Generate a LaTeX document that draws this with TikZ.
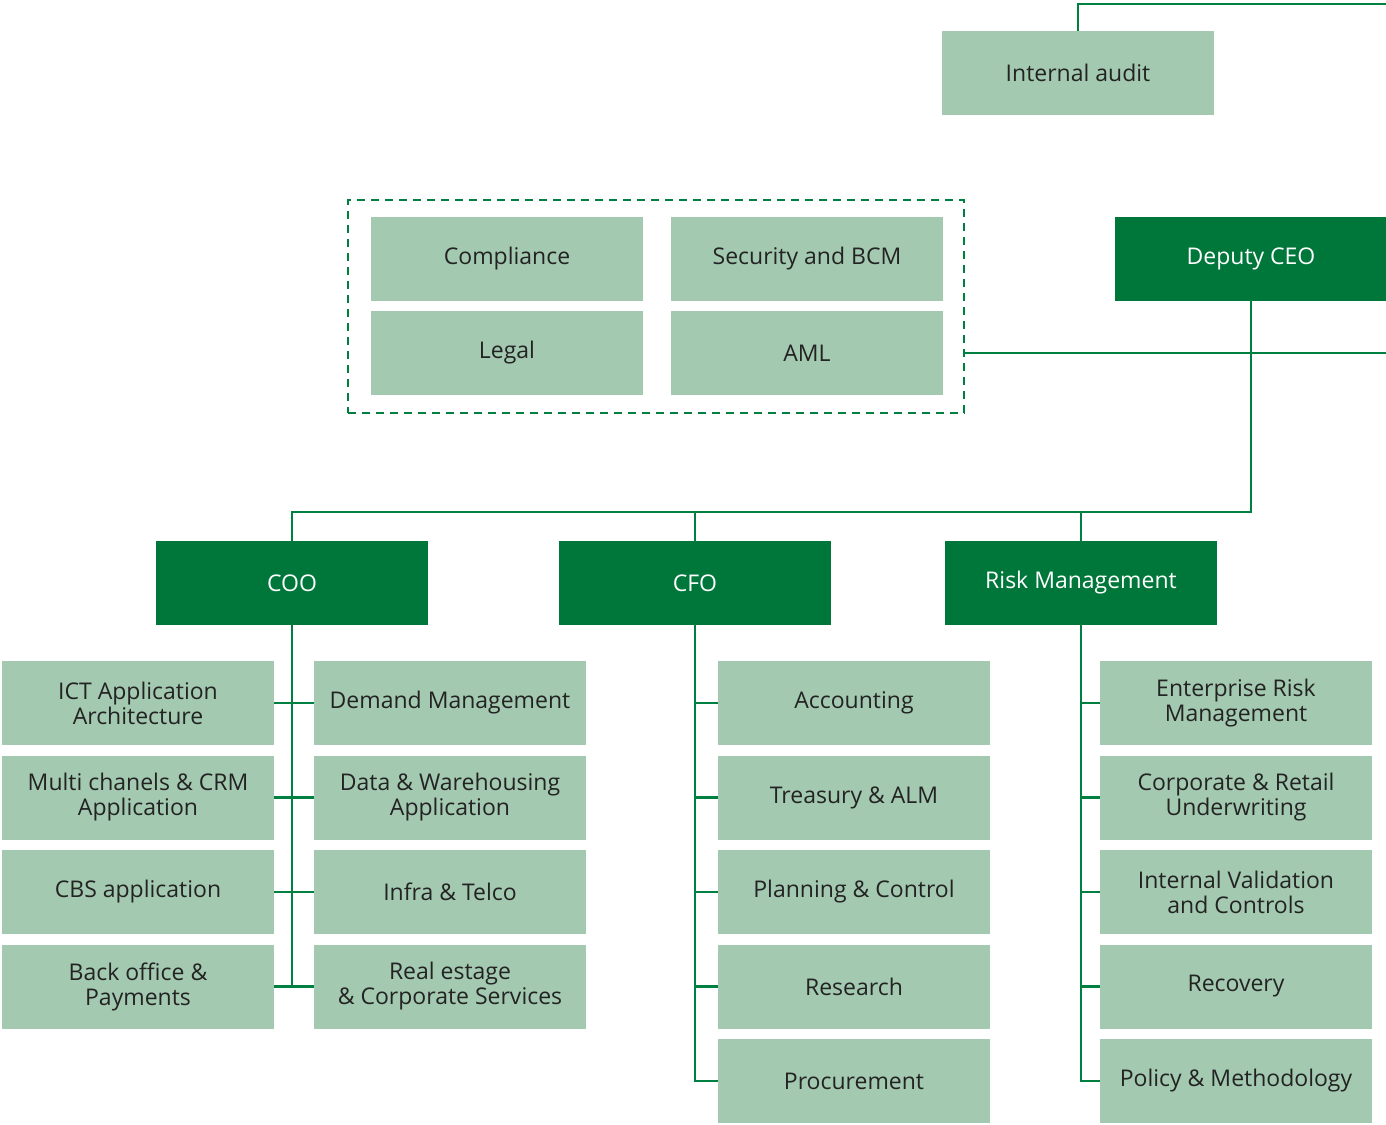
\documentclass[tikz,border=0pt]{standalone}
\usepackage{fontspec}
\setmainfont{Open Sans}
\usetikzlibrary{positioning}

\definecolor{darkgreen}{RGB}{0,119,58}
\definecolor{palegreen}{RGB}{163,201,176}
\definecolor{linegreen}{RGB}{0,128,64}
\definecolor{textgrey}{RGB}{35,35,35}

\begin{document}
\begin{tikzpicture}
[
	x	= 0.5pt,	% one pixel of the layout
	y	= -0.5pt,	% y runs downwards as in the layout
	node distance = 5.25pt and 20pt,
	unit/.style	= {fill=palegreen, text=textgrey, minimum width=136pt, minimum height=42pt, inner sep=0pt, outer sep=0pt, align=center, font=\fontsize{11.5}{12.5}\selectfont},
	head/.style	= {unit, fill=darkgreen, text=white},
	link/.style	= {-, color=linegreen, line width=1.3pt},
]

\useasboundingbox (0,0) rectangle (1386,1124);

% top of the chart
\node [unit] (audit) at (1078,73) {Internal audit};
\node [head] (deputy) at (1251,259) {Deputy CEO};

\node [draw=linegreen, line width=1pt, dash pattern=on 4pt off 3pt, minimum width=308pt, minimum height=106.5pt, outer sep=0pt] (staff) at (656,306.5) {};
\node [unit] (compliance) at (507,259) {Compliance};
\node [unit, right=14pt of compliance] (security) {Security and BCM};
\node [unit, below=5pt of compliance] (legal) {Legal};
\node [unit, below=5pt of security] (aml) {AML};

\coordinate (edgeA) at (1386,4);
\coordinate (edgeB) at (1386,353);
\coordinate (bus) at (0,512);

% directors
\node [head] (coo) at (292,583) {COO};
\node [head] (cfo) at (695,583) {CFO};
\node [head] (risk) at (1081,583) {Risk Management};

% COO units
\node [unit] (coo1) at (138,703) {ICT Application\\Architecture};
\node [unit, right=of coo1] (coo2) {Demand Management};
\node [unit, below=of coo1] (coo3) {Multi chanels \& CRM\\Application};
\node [unit, right=of coo3] (coo4) {Data \& Warehousing\\Application};
\node [unit, below=of coo3] (coo5) {CBS application};
\node [unit, right=of coo5] (coo6) {Infra \& Telco};
\node [unit, below=of coo5] (coo7) {Back office \&\\Payments};
\node [unit, right=of coo7] (coo8) {Real estage\\\& Corporate Services};

% CFO units
\node [unit] (cfo1) at (854,703) {Accounting};
\node [unit, below=of cfo1] (cfo2) {Treasury \& ALM};
\node [unit, below=of cfo2] (cfo3) {Planning \& Control};
\node [unit, below=of cfo3] (cfo4) {Research};
\node [unit, below=of cfo4] (cfo5) {Procurement};

% risk units
\node [unit] (risk1) at (1236,703) {Enterprise Risk\\Management};
\node [unit, below=of risk1] (risk2) {Corporate \& Retail\\Underwriting};
\node [unit, below=of risk2] (risk3) {Internal Validation\\and Controls};
\node [unit, below=of risk3] (risk4) {Recovery};
\node [unit, below=of risk4] (risk5) {Policy \& Methodology};

% connectors
\draw [link] (audit.north) |- (edgeA);
\draw [link] (staff.east |- edgeB) -- (edgeB);
\draw [link] (deputy.south) -- (deputy.south |- bus) -- (coo.north |- bus) -- (coo.north);
\draw [link] (cfo.north) -- (cfo.north |- bus);
\draw [link] (risk.north) -- (risk.north |- bus);

\draw [link] (coo.south) -- (coo.south |- coo7.east);
\foreach \i/\j in {1/2, 3/4, 5/6, 7/8}
	\draw [link] (coo\i.east) -- (coo\j.west);

\draw [link] (cfo.south) |- (cfo5.west);
\draw [link] (risk.south) |- (risk5.west);
\foreach \i in {1,...,4}
{
	\draw [link] (cfo.south |- cfo\i.west) -- (cfo\i.west);
	\draw [link] (risk.south |- risk\i.west) -- (risk\i.west);
}

\end{tikzpicture}
\end{document}
